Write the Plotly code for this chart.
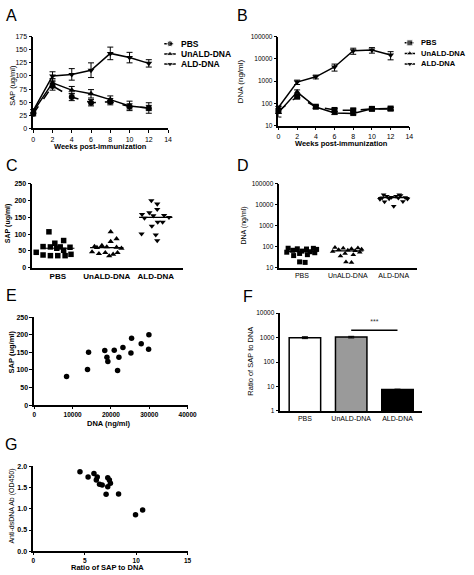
import numpy as np
import plotly.graph_objects as go

# ---------------- DATA ----------------
weeks = [0, 2, 4, 6, 8, 10, 12]
series_names = ["PBS", "UnALD-DNA", "ALD-DNA"]

# Panel A: SAP (ug/ml) over time
sap_pbs = [28, 81, 60, 49, 51, 42, 39]
sap_pbs_err = [4, 8, 7, 6, 6, 5, 5]
sap_unald = [32, 87, 73, 66, 55, 43, 39]
sap_unald_err = [4, 8, 7, 8, 7, 9, 10]
sap_ald = [34, 100, 103, 111, 143, 135, 124]
sap_ald_err = [4, 8, 11, 14, 12, 10, 7]

# Panel B: DNA (ng/ml) over time
dna_pbs = [45, 200, 70, 50, 48, 56, 58]
dna_pbs_err = [10, 40, 10, 8, 8, 8, 8]
dna_unald = [38, 320, 68, 37, 35, 57, 56]
dna_unald_err = [14, 80, 10, 6, 7, 10, 10]
dna_ald = [65, 900, 1550, 4300, 23000, 25000, 15000]
dna_ald_err = [12, 200, 300, 1500, 7000, 7000, 6000]

# Panel C: SAP per mouse
c_pbs = [107, 81, 73, 63, 62, 62, 61, 58, 52, 46, 40, 38, 36, 36, 36]
c_pbs_jitter = [-0.18, 0.12, -0.06, -0.3, -0.15, 0.05, 0.25, -0.02, 0.12, -0.44, 0.27, -0.3, -0.15, 0.0, 0.15]
c_unald = [107, 86, 78, 66, 63, 62, 61, 58, 47, 45, 45, 42, 40, 35, 60]
c_unald_jitter = [0.08, 0.2, 0.08, -0.1, -0.25, 0.0, 0.2, 0.3, -0.3, -0.03, 0.22, -0.16, 0.13, 0.05, -0.2]

# Panel E: paired DNA / SAP for ALD-DNA mice (also used in C and D)
ald_dna = [8435, 13900, 14170, 18400, 18960, 19200, 20870, 21740, 22090, 23130, 25220, 25390, 27900, 29830, 29910]
ald_sap = [81, 101, 150, 155, 136, 124, 156, 98, 136, 164, 148, 190, 174, 159, 200]
c_ald_jitter = [0.03, -0.29, 0.27, -0.05, 0.14, -0.08, 0.17, 0.0, 0.04, -0.13, -0.23, 0.03, 0.03, -0.28, -0.09]

# Panel D: DNA per mouse
d_pbs = [85, 84, 80, 78, 75, 68, 62, 58, 55, 52, 48, 42, 38, 19, 18]
d_pbs_jitter = [-0.3, 0.25, -0.1, 0.1, 0.32, -0.2, 0.0, 0.18, -0.33, 0.28, -0.05, 0.12, -0.18, -0.05, 0.07]
d_unald = [92, 88, 85, 80, 76, 72, 68, 64, 60, 55, 48, 42, 36, 19, 18]
d_unald_jitter = [-0.28, 0.22, -0.1, 0.08, 0.3, -0.2, 0.0, 0.16, -0.33, 0.26, -0.06, 0.12, -0.16, -0.04, 0.08]
d_ald_jitter = [0.0, -0.2, 0.2, -0.3, 0.3, -0.1, 0.1, -0.25, 0.25, -0.05, 0.05, -0.15, 0.15, -0.22, 0.12]

# Panel F: ratio of SAP to DNA
ratio_mean = [1000, 1050, 7.5]
ratio_err = [90, 80, 0.3]
ratio_colors = ["white", "#9a9a9a", "black"]
sig_level = 2000
sig_text = "***"

# Panel G: ratio vs anti-dsDNA
g_ratio = [4.54, 5.33, 5.9, 6.22, 6.13, 6.44, 6.7, 7.24, 7.4, 7.5, 7.24, 7.08, 8.29, 9.94, 10.63]
g_anti = [1.87, 1.75, 1.83, 1.75, 1.68, 1.58, 1.56, 1.73, 1.68, 1.6, 1.52, 1.34, 1.35, 0.86, 0.97]

# ---------------- LAYOUT HELPERS ----------------
W, H = 474, 575
FONT = "Liberation Sans, Arial, sans-serif"


def dx(a, b):
    return [a / W, b / W]


def dy(top, bot):
    return [1 - bot / H, 1 - top / H]


def axis(domain, anchor, bold=False, size=7, **kw):
    d = dict(domain=domain, anchor=anchor, showline=True, linecolor="black", linewidth=1.5,
             ticks="outside", ticklen=3, tickwidth=1, tickcolor="black", showgrid=False,
             zeroline=False, fixedrange=True,
             tickfont=dict(family=FONT, size=size, color="black", weight="bold" if bold else "normal"))
    d.update(kw)
    return d


fig = go.Figure()
eb = dict(type="data", color="black", thickness=1, width=3)


def note(text, x, y, size=8, bold=False, angle=0, xanchor="center", yanchor="middle"):
    fig.add_annotation(text=text, xref="paper", yref="paper", x=x / W, y=1 - y / H, showarrow=False,
                       textangle=angle, xanchor=xanchor, yanchor=yanchor,
                       font=dict(family=FONT, size=size, color="black", weight="bold" if bold else "normal"))


# Panel A
a_series = [(sap_pbs, sap_pbs_err, "circle", "dash"),
            (sap_unald, sap_unald_err, "triangle-up", "solid"),
            (sap_ald, sap_ald_err, "triangle-down", "solid")]
for name, (ys, es, sym, dash) in zip(series_names, a_series):
    fig.add_trace(go.Scatter(x=weeks, y=ys, error_y=dict(array=es, **eb), mode="lines+markers",
                             line=dict(color="black", width=1.5, dash=dash),
                             marker=dict(symbol=sym, size=6, color="black"),
                             name=name, xaxis="x", yaxis="y", cliponaxis=False, showlegend=False))

# Panel B
b_series = [(dna_pbs, dna_pbs_err, "square", "dash"),
            (dna_unald, dna_unald_err, "triangle-up", "solid"),
            (dna_ald, dna_ald_err, "triangle-down", "solid")]
for name, (ys, es, sym, dash) in zip(series_names, b_series):
    fig.add_trace(go.Scatter(x=weeks, y=ys, error_y=dict(array=es, **eb), mode="lines+markers",
                             line=dict(color="black", width=1.5, dash=dash),
                             marker=dict(symbol=sym, size=6, color="black"),
                             name=name, xaxis="x2", yaxis="y2", cliponaxis=False, showlegend=False))

# Legends for A and B (samples on helper axes, labels as text)
leg_a_rows = [40.2, 50.5, 60.8]
leg_b_rows = [39.3, 50.0, 60.7]
for i, (name, (_, _, sym, dash)) in enumerate(zip(series_names, a_series)):
    fig.add_trace(go.Scatter(x=[0, 0.5, 1], y=[i, i, i], mode="lines+markers",
                             line=dict(color="black", width=1.5, dash="dot" if dash == "dash" else "solid"),
                             marker=dict(symbol=sym, size=[0, 6, 0], color="black"),
                             xaxis="x8", yaxis="y8", showlegend=False, hoverinfo="skip", cliponaxis=False))
    note(name, 181, leg_a_rows[i], size=8.5, bold=True, xanchor="left")
for i, (name, (_, _, sym, dash)) in enumerate(zip(series_names, b_series)):
    fig.add_trace(go.Scatter(x=[0, 0.5, 1], y=[i, i, i], mode="lines+markers",
                             line=dict(color="black", width=1.5, dash="dot" if dash == "dash" else "solid"),
                             marker=dict(symbol=sym, size=[0, 6, 0], color="black"),
                             xaxis="x9", yaxis="y9", showlegend=False, hoverinfo="skip", cliponaxis=False))
    note(name, 427, leg_b_rows[i], size=7.5, bold=True, xanchor="left")

# Panel C
c_groups = [(c_pbs, c_pbs_jitter, "square"), (c_unald, c_unald_jitter, "triangle-up"),
            (ald_sap, c_ald_jitter, "triangle-down")]
for k, (vals, jit, sym) in enumerate(c_groups):
    fig.add_trace(go.Scatter(x=[k + j for j in jit], y=vals, mode="markers",
                             marker=dict(symbol=sym, size=5.5, color="black"),
                             xaxis="x3", yaxis="y3", showlegend=False, cliponaxis=False))
    med = float(np.median(vals))
    fig.add_trace(go.Scatter(x=[k - 0.34, k + 0.34], y=[med, med], mode="lines",
                             line=dict(color="black", width=1.2), xaxis="x3", yaxis="y3", showlegend=False))

# Panel D
d_groups = [(d_pbs, d_pbs_jitter, "square"), (d_unald, d_unald_jitter, "triangle-up"),
            (ald_dna, d_ald_jitter, "triangle-down")]
for k, (vals, jit, sym) in enumerate(d_groups):
    fig.add_trace(go.Scatter(x=[k + j for j in jit], y=vals, mode="markers",
                             marker=dict(symbol=sym, size=5, color="black"),
                             xaxis="x4", yaxis="y4", showlegend=False, cliponaxis=False))
    med = float(np.median(vals))
    fig.add_trace(go.Scatter(x=[k - 0.34, k + 0.34], y=[med, med], mode="lines",
                             line=dict(color="black", width=1.2), xaxis="x4", yaxis="y4", showlegend=False))

# Panel E
fig.add_trace(go.Scatter(x=ald_dna, y=ald_sap, mode="markers", marker=dict(symbol="circle", size=5.5, color="black"),
                         xaxis="x5", yaxis="y5", showlegend=False))

# Panel F
fig.add_trace(go.Bar(x=[0, 1, 2], y=ratio_mean, width=0.68,
                     marker=dict(color=ratio_colors, line=dict(color="black", width=1.5)),
                     error_y=dict(array=ratio_err, **eb),
                     xaxis="x6", yaxis="y6", showlegend=False))
fig.add_trace(go.Scatter(x=[1, 2], y=[sig_level, sig_level], mode="lines", line=dict(color="black", width=1.5),
                         xaxis="x6", yaxis="y6", showlegend=False))
fig.add_trace(go.Scatter(x=[1.5], y=[sig_level * 2.1], mode="text", text=[sig_text],
                         textfont=dict(family=FONT, size=7, color="#333"),
                         xaxis="x6", yaxis="y6", showlegend=False))

# Panel G
fig.add_trace(go.Scatter(x=g_ratio, y=g_anti, mode="markers", marker=dict(symbol="circle", size=5.5, color="black"),
                         xaxis="x7", yaxis="y7", showlegend=False))

cat_kw = dict(tickmode="array", tickvals=[0, 1, 2], ticktext=series_names, ticks="")

fig.update_layout(
    width=W, height=H, margin=dict(l=0, r=0, t=0, b=0),
    paper_bgcolor="white", plot_bgcolor="white", showlegend=False,
    font=dict(family=FONT, color="black"),
    xaxis=axis(dx(32, 170), "y", range=[0, 14], dtick=2),
    yaxis=axis(dy(33, 126), "x", range=[0, 175], dtick=25),
    xaxis2=axis(dx(283, 417), "y2", range=[0, 14], dtick=2),
    yaxis2=axis(dy(33, 123), "x2", type="log", range=[1, 5], dtick=1, tickformat="d", size=6.5),
    xaxis3=axis(dx(31, 185), "y3", range=[-0.52, 2.55], bold=True, size=8, **cat_kw),
    yaxis3=axis(dy(182, 267), "x3", range=[0, 250], dtick=50, bold=True),
    xaxis4=axis(dx(284, 425), "y4", range=[-0.49, 2.51], size=7, **cat_kw),
    yaxis4=axis(dy(182, 267), "x4", type="log", range=[1, 5], dtick=1, tickformat="d", size=6.5),
    xaxis5=axis(dx(33, 190), "y5", range=[0, 40000], dtick=10000, tickformat="d", bold=True, size=6.5, ticklen=2),
    yaxis5=axis(dy(317, 406), "x5", range=[0, 250], dtick=50, bold=True),
    xaxis6=axis(dx(285, 430), "y6", range=[-0.53, 2.53], size=7, **cat_kw),
    yaxis6=axis(dy(313, 412), "x6", type="log", range=[0, 4], dtick=1, tickformat="d", size=6.5),
    xaxis7=axis(dx(32, 190), "y7", range=[0, 15], dtick=5, bold=True, size=6.5, ticklen=2),
    yaxis7=axis(dy(468, 554), "x7", range=[0, 2], dtick=0.5, tickformat=".1f", bold=True),
    xaxis8=dict(domain=dx(166, 178), anchor="y8", range=[0, 1], visible=False, fixedrange=True),
    yaxis8=dict(domain=dy(35, 66), anchor="x8", range=[2.5, -0.5], visible=False, fixedrange=True),
    xaxis9=dict(domain=dx(412, 423), anchor="y9", range=[0, 1], visible=False, fixedrange=True),
    yaxis9=dict(domain=dy(34, 66), anchor="x9", range=[2.5, -0.5], visible=False, fixedrange=True),
)

# Panel letters
for letter, (lx, ly) in zip("ABCDEFG", [(2, 1), (239, 1), (2, 153), (239, 153), (2, 284), (245, 285), (1, 435)]):
    note(letter, lx, ly, size=16, xanchor="left", yanchor="top")

# Axis titles
note("SAP (ug/ml)", 10, 82, size=7.5, angle=-90)
note("Weeks post-immunization", 101, 144, size=7.5, bold=True)
note("DNA (ng/ml)", 244, 78, size=8, angle=-90)
note("Weeks post-immunization", 348, 141, size=7.5, bold=True)
note("SAP (ug/ml)", 6, 222, size=7, bold=True, angle=-90)
note("DNA (ng/ml)", 248, 224, size=7, angle=-90)
note("SAP (ug/ml)", 10, 352, size=7.5, bold=True, angle=-90)
note("DNA (ng/ml)", 110, 425, size=7.5, bold=True)
note("Ratio of SAP to DNA", 254, 362, size=7.5, angle=-90)
note("Anti-dsDNA Ab (OD450)", 10, 508, size=7, angle=-90)
note("Ratio of SAP to DNA", 108, 570, size=7.5, bold=True)

fig.write_html("out.html", config={"displayModeBar": False},
               post_script="document.body.style.margin='0';")
